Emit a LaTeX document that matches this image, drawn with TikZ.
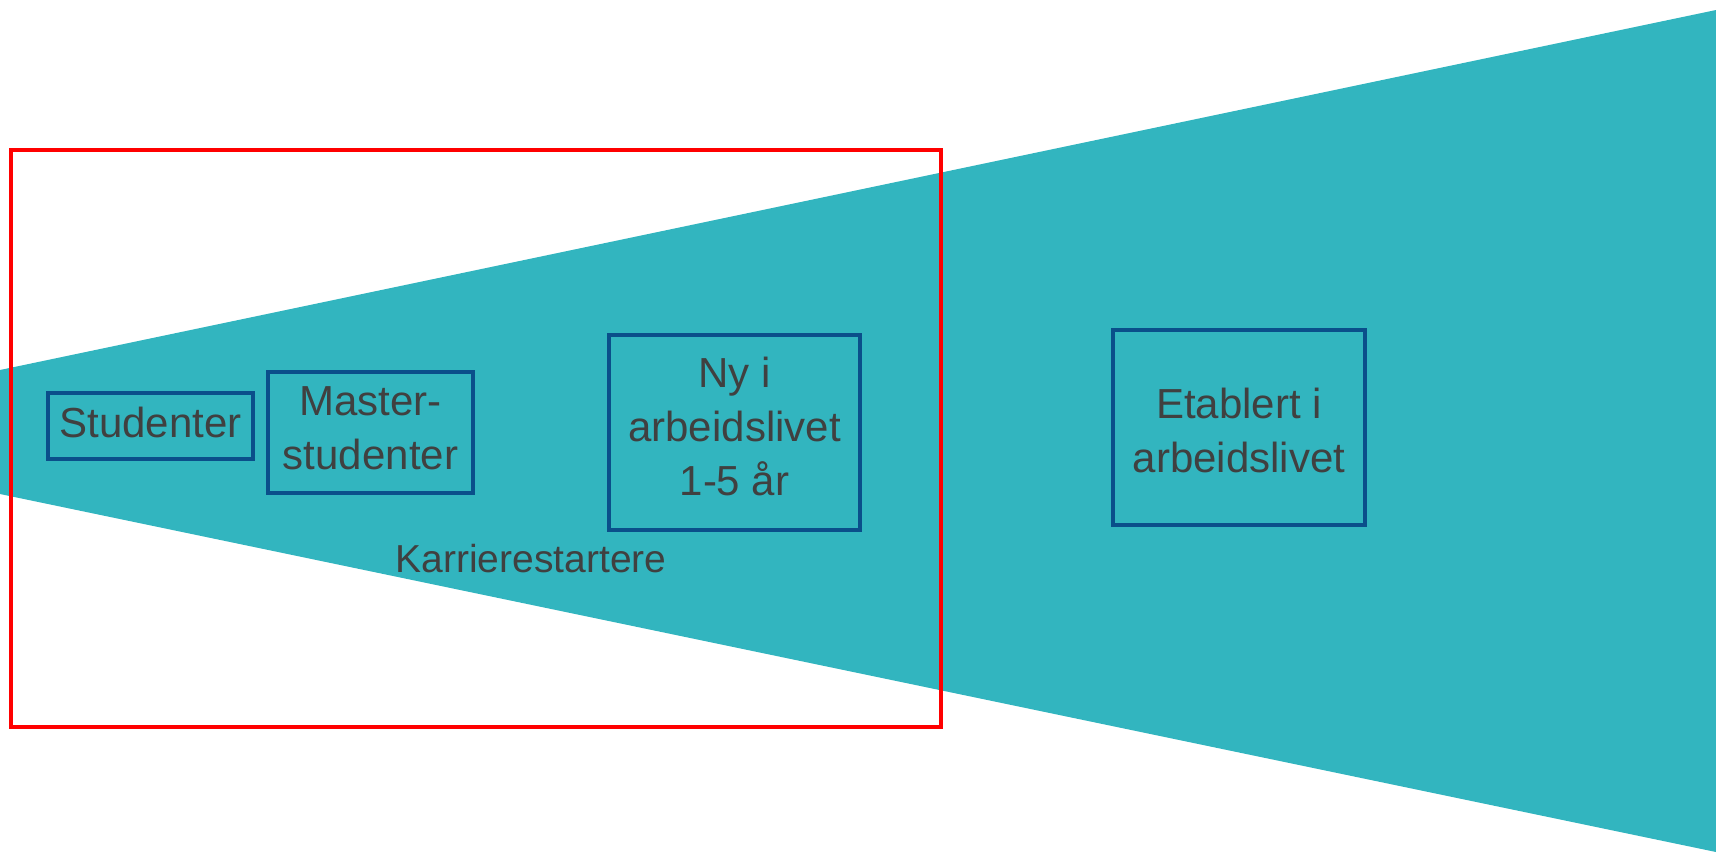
\documentclass[tikz,border=0pt]{standalone}
\usepackage{fontspec}
\setmainfont{Liberation Sans}
\definecolor{teal1}{HTML}{32B5BF}
\definecolor{boxblue}{HTML}{0A4F8A}
\definecolor{txtgray}{HTML}{404040}
\tikzset{
  stage/.style={draw=boxblue, line width=1.75pt, rectangle, inner sep=0pt},
  stagetxt/.style={align=center, inner sep=0pt, text=txtgray, font=\fontsize{21}{27}\selectfont},
  lbl/.style={text=txtgray, inner sep=0pt, font=\fontsize{19.5}{24}\selectfont},
  frame/.style={draw=red, line width=2pt, rectangle, inner sep=0pt}
}
\begin{document}
\begin{tikzpicture}[x=0.5pt,y=-0.5pt]
\useasboundingbox (0,0) rectangle (1716,852);
\fill[teal1] (0,370) -- (1716,10) -- (1716,852) -- (0,494) -- cycle;
\node[frame, minimum width=465pt, minimum height=288.5pt] (fr) at (476,438.5) {};
\node[stage, minimum width=102.5pt, minimum height=33pt] (stud) at (150.5,426) {};
\node[stage, minimum width=102.5pt, minimum height=60.5pt] (mast) at (370.5,432.5) {};
\node[stage, minimum width=125.5pt, minimum height=97.5pt] (ny) at (734.5,432.5) {};
\node[stage, minimum width=126pt, minimum height=97.5pt] (etab) at (1239,427.5) {};
\node[stagetxt, yshift=1.7pt] (studt) at (stud.center) {Studenter};
\node[stagetxt, yshift=2.3pt] (mastt) at (mast.center) {Master-\\studenter};
\node[stagetxt, yshift=2.8pt] (nyt) at (ny.center) {Ny i\\arbeidslivet\\1-5 år};
\node[stagetxt, yshift=-1.4pt] (etabt) at (etab.center) {Etablert i\\arbeidslivet};
\node[lbl] (karr) at (531,559) {Karrierestartere};
\end{tikzpicture}
\end{document}
